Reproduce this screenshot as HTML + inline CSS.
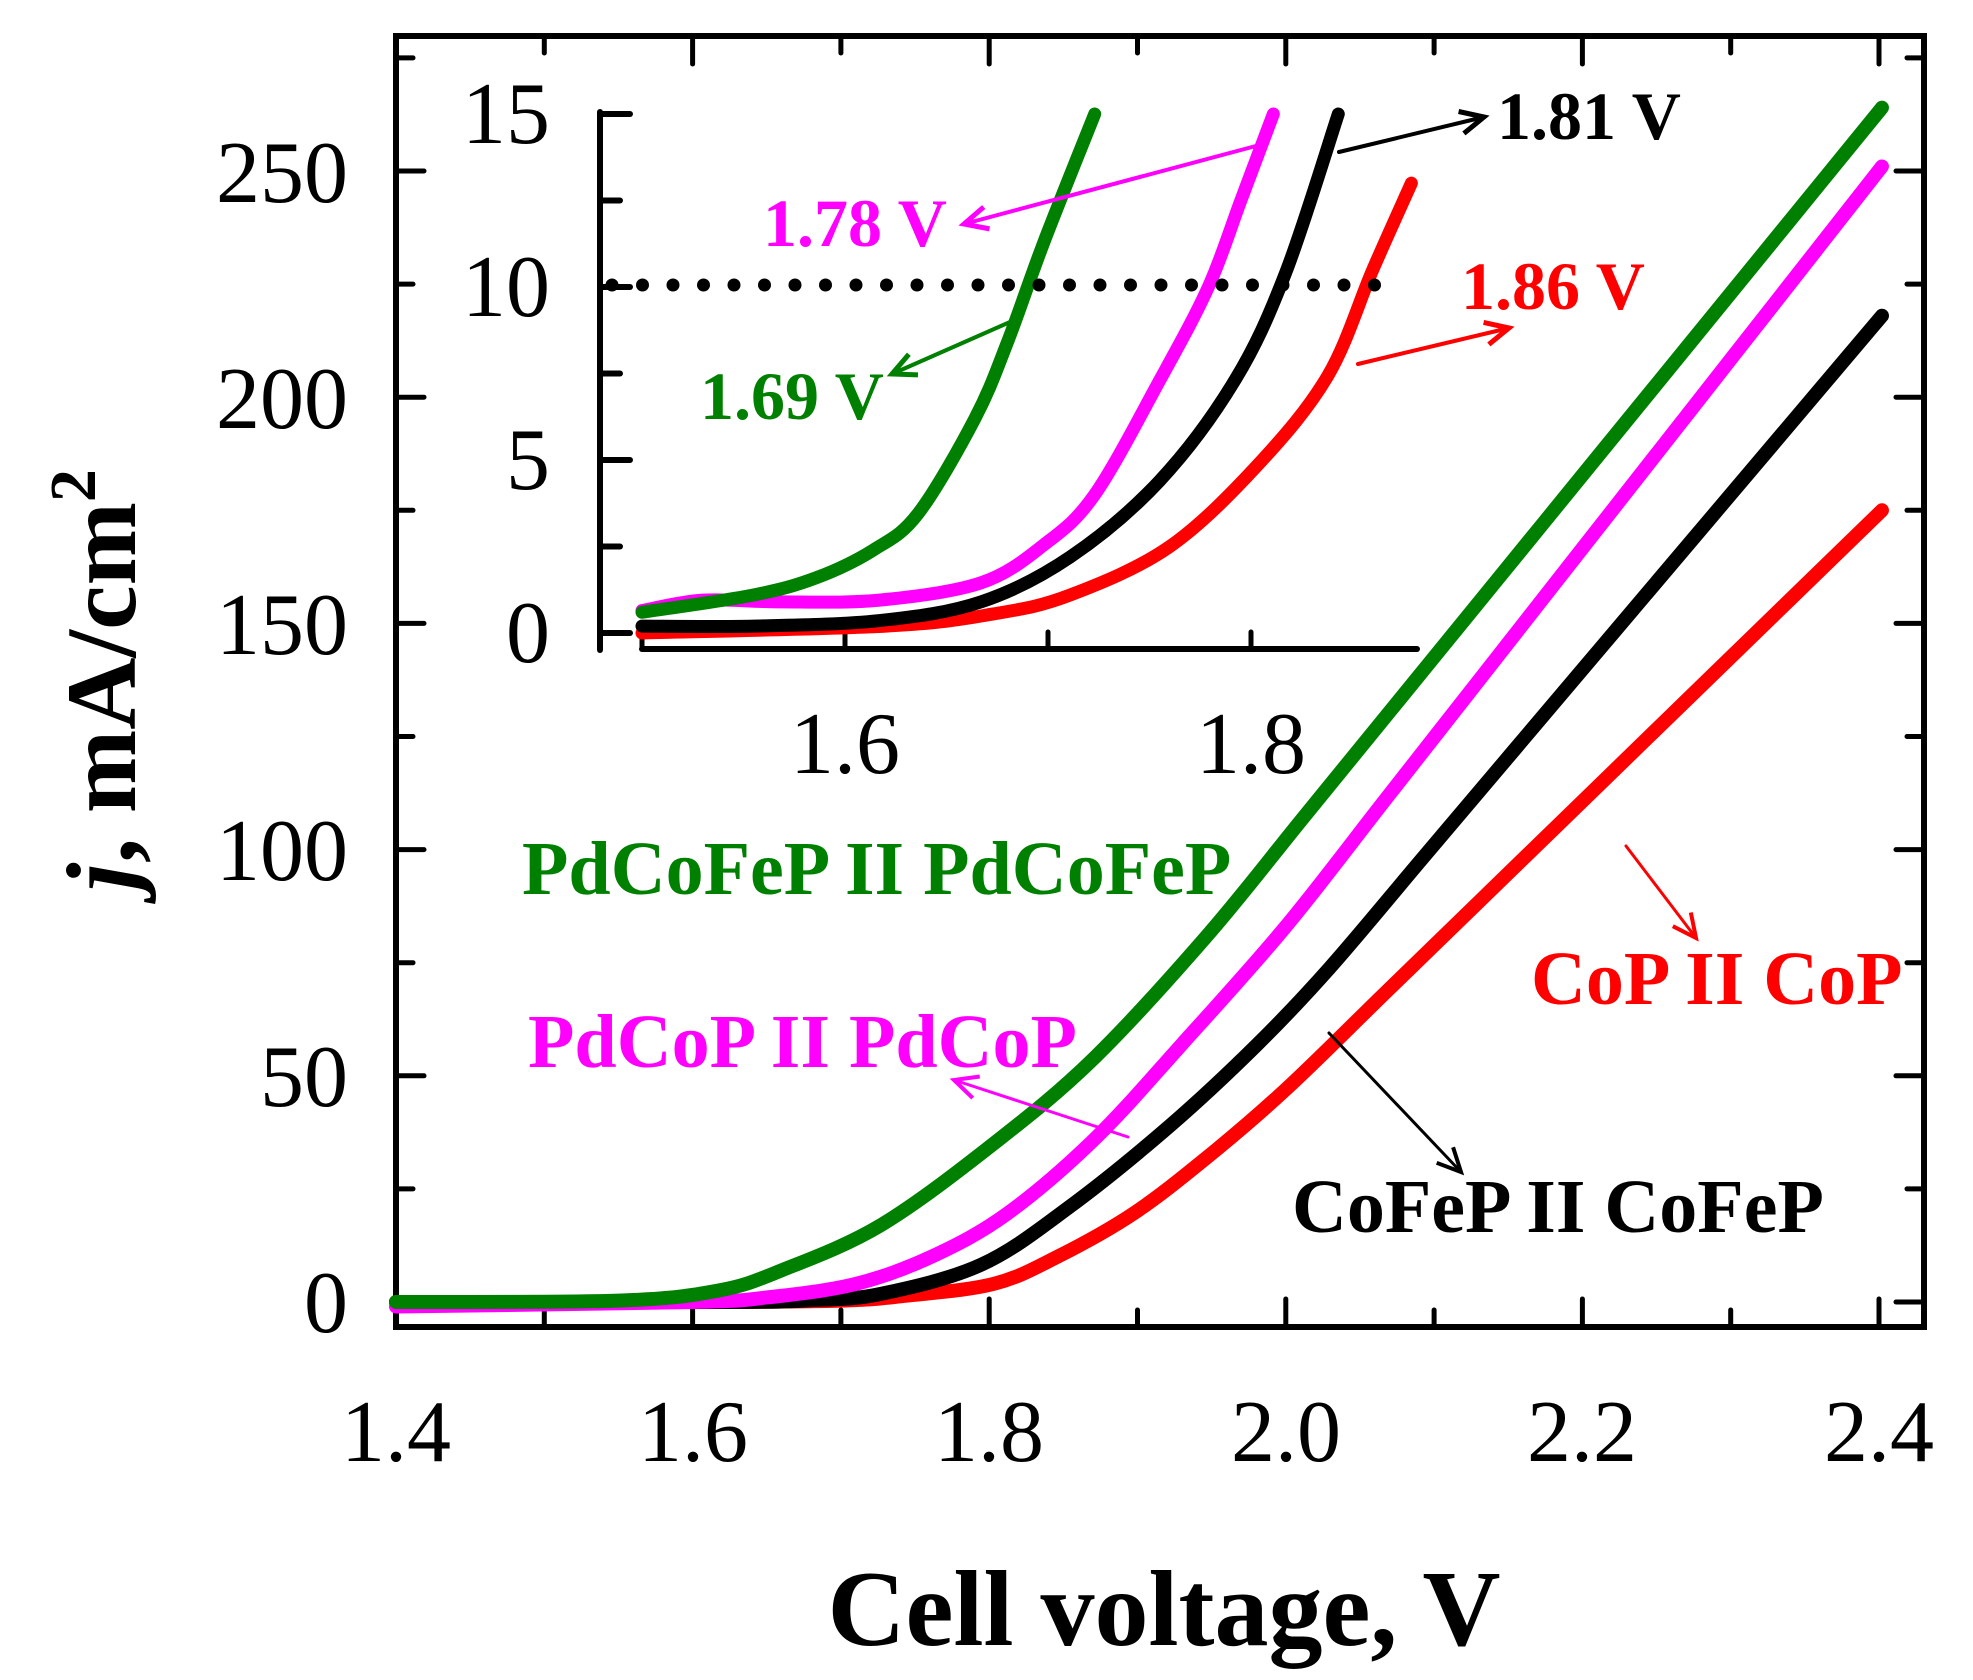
<!DOCTYPE html>
<html><head><meta charset="utf-8">
<style>
html,body{margin:0;padding:0;background:#fff;}
svg{display:block;}
text{font-family:"Liberation Serif","Times New Roman",serif;}
</style></head>
<body>
<svg id="s" width="1973" height="1680" viewBox="0 0 1973 1680" xmlns="http://www.w3.org/2000/svg">
<g id="g"></g>
<g font-size="88" text-anchor="end">
<text x="348" y="1332">0</text>
<text x="348" y="1106">50</text>
<text x="348" y="880">100</text>
<text x="348" y="654">150</text>
<text x="348" y="428">200</text>
<text x="348" y="202">250</text>
</g>
<g font-size="88" text-anchor="middle">
<text x="396" y="1461">1.4</text>
<text x="693" y="1461">1.6</text>
<text x="989" y="1461">1.8</text>
<text x="1286" y="1461">2.0</text>
<text x="1582" y="1461">2.2</text>
<text x="1879" y="1461">2.4</text>
</g>
<text x="1164" y="1645" font-size="108" font-weight="bold" text-anchor="middle">Cell voltage, V</text>
<text transform="translate(135,680) rotate(-90)" font-size="100" font-weight="bold" text-anchor="middle"><tspan font-style="italic">j</tspan>, mA/cm<tspan dy="-40" font-size="66">2</tspan></text>
<g font-size="88" text-anchor="end">
<text x="550" y="662">0</text>
<text x="550" y="489">5</text>
<text x="550" y="316">10</text>
<text x="550" y="143">15</text>
</g>
<g font-size="88" text-anchor="middle">
<text x="845" y="773">1.6</text>
<text x="1251" y="773">1.8</text>
</g>
<g font-weight="bold" font-size="76">
<text x="522" y="894" fill="#008000">PdCoFeP II PdCoFeP</text>
<text x="528" y="1067" fill="#ff00ff">PdCoP II PdCoP</text>
<text x="1531" y="1004" fill="#ff0000">CoP II CoP</text>
<text x="1292" y="1232" fill="#000">CoFeP II CoFeP</text>
<text x="1497" y="139" fill="#000" font-size="68">1.81 V</text>
<text x="763" y="246" fill="#ff00ff" font-size="68">1.78 V</text>
<text x="700" y="419" fill="#008000" font-size="68">1.69 V</text>
<text x="1461" y="309" fill="#ff0000" font-size="68">1.86 V</text>
</g>
</svg>
<script>
const NS="http://www.w3.org/2000/svg",g=document.getElementById('g');
function el(t,a){const e=document.createElementNS(NS,t);for(const k in a)e.setAttribute(k,a[k]);g.appendChild(e);return e;}
function line(x1,y1,x2,y2,c,w,arrow){el('line',{x1,y1,x2,y2,stroke:c,'stroke-width':w,'stroke-linecap':'round'});if(arrow){
 const a=Math.atan2(y2-y1,x2-x1),L=26,s=0.45;
 el('path',{d:`M${x2-L*Math.cos(a-s)},${y2-L*Math.sin(a-s)} L${x2},${y2} L${x2-L*Math.cos(a+s)},${y2-L*Math.sin(a+s)}`,fill:'none',stroke:c,'stroke-width':w+1});}}
function smooth(p){let d=`M${p[0][0]},${p[0][1]}`;for(let i=0;i<p.length-1;i++){const p0=p[i-1]||p[i],p1=p[i],p2=p[i+1],p3=p[i+2]||p2;
 d+=` C${p1[0]+(p2[0]-p0[0])/6},${p1[1]+(p2[1]-p0[1])/6} ${p2[0]-(p3[0]-p1[0])/6},${p2[1]-(p3[1]-p1[1])/6} ${p2[0]},${p2[1]}`;}return d;}
function curve(data,X,Y,c,w){el('path',{d:smooth(data.map(q=>[X(q[0]),Y(q[1])])),fill:'none',stroke:c,'stroke-width':w,'stroke-linecap':'round','stroke-linejoin':'round'});}
function lin(pts,v0,j0,v1,j1,n){for(let i=1;i<=n;i++){const t=i/n;pts.push([v0+(v1-v0)*t,j0+(j1-j0)*t]);}return pts;}
const MX=v=>396+1483*(v-1.4),MY=j=>1302-4.524*j;
el('rect',{x:396,y:36,width:1528,height:1291,fill:'none',stroke:'#000','stroke-width':6});
for(let i=0;i<=10;i++){const x=MX(1.4+i*0.1),L=i%2==0?28:17;line(x,1327,x,1327-L,'#000',5);line(x,36,x,36+L,'#000',5);}
for(let j=0;j<=275;j+=25){const y=MY(j),L=j%50==0?28:17;line(396,y,396+L,y,'#000',5);line(1924,y,1924-L,y,'#000',5);}
const red=lin([[1.4,0],[1.6,0],[1.7,0.3],[1.744,1.4],[1.803,4],[1.846,10],[1.897,19.5],[1.947,32],[2.0,47]],2.0,47,2.402,175,6);
const blk=lin([[1.4,0],[1.62,0],[1.68,0.4],[1.727,1.8],[1.795,8.3],[1.854,21],[1.922,39],[1.981,57],[2.03,74]],2.03,74,2.402,218,6);
const mag=lin([[1.4,-1],[1.6,0],[1.65,1],[1.71,4],[1.761,10],[1.812,19.5],[1.871,36],[1.93,57],[2.0,83]],2.0,83,2.402,251,6);
const grn=lin([[1.4,0],[1.55,0.3],[1.617,2.5],[1.66,7],[1.727,17],[1.803,35],[1.871,54],[1.947,81]],1.947,81,2.402,264,7);
curve(red,MX,MY,'#ff0000',14);curve(blk,MX,MY,'#000',14);curve(mag,MX,MY,'#ff00ff',14);curve(grn,MX,MY,'#008000',14);
const IX=v=>642+2030*(v-1.5),IY=j=>633-34.6*j;
line(600,112,600,650,'#000',6);line(642,649,1417,649,'#000',6);
for(let j=0;j<=15;j+=2.5){const L=j%5==0?30:20;line(600,IY(j),600+L,IY(j),'#000',6);}
for(let v=1.5;v<1.85;v+=0.1){line(IX(v),649,IX(v),632,'#000',5);}
const ir=[[1.5,0],[1.62,0.2],[1.673,0.55],[1.711,1.1],[1.76,2.5],[1.804,4.9],[1.838,7.45],[1.86,10.5],[1.879,13]];
const ib=[[1.5,0.2],[1.555,0.2],[1.617,0.36],[1.667,0.9],[1.711,2.2],[1.755,4.4],[1.792,7.3],[1.817,10.4],[1.843,15]];
const im=[[1.5,0.65],[1.53,0.95],[1.568,0.9],[1.617,0.95],[1.667,1.45],[1.698,2.55],[1.723,4],[1.755,7.3],[1.779,10],[1.795,12.5],[1.811,15]];
const ig=[[1.5,0.6],[1.555,1.1],[1.586,1.6],[1.614,2.4],[1.636,3.45],[1.664,6.2],[1.68,8.4],[1.698,11.3],[1.723,15]];
curve(ir,IX,IY,'#ff0000',13);curve(ib,IX,IY,'#000',13);curve(im,IX,IY,'#ff00ff',13);curve(ig,IX,IY,'#008000',13);
for(let x=612;x<=1382;x+=30.5)el('circle',{cx:x,cy:285,r:6.5,fill:'#000'});
line(1267,143,964,224,'#ff00ff',4,1);
line(1010,322,892,374,'#008000',4,1);
line(1339,152,1484,117,'#000',4,1);
line(1358,364,1509,328,'#ff0000',4,1);
line(1626,846,1696,938,'#ff0000',3,1);
line(1329,1033,1461,1172,'#000',3,1);
line(1128,1137,954,1080,'#ff00ff',3,1);
</script>
</body></html>
